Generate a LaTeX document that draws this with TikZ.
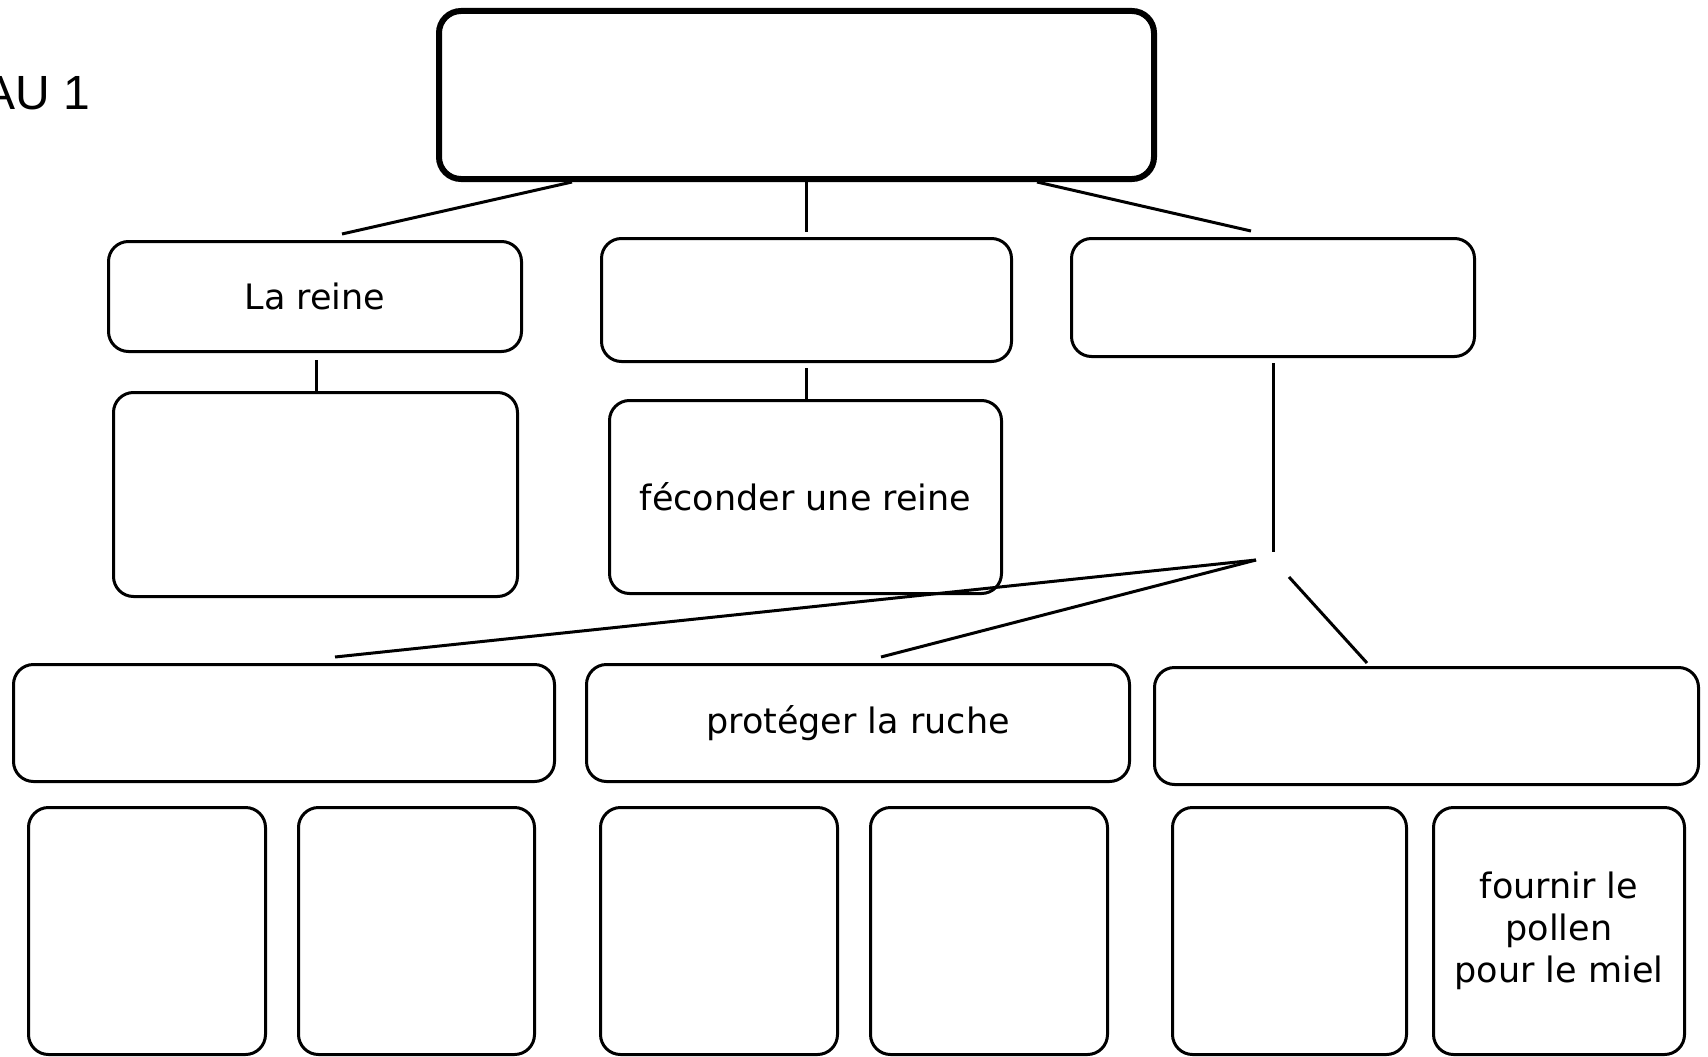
\documentclass[tikz,border=0pt]{standalone}
\usepackage{fontspec}
\setmainfont{DejaVu Sans}
\newfontfamily\arialf{Liberation Sans}
\tikzset{
  box/.style={draw=black, line width=3pt, rounded corners=20pt, inner sep=0pt, outer sep=0pt,
              align=center, font=\fontsize{35}{42}\selectfont},
  topbox/.style={box, line width=6pt, rounded corners=22pt},
  link/.style={draw=black, line width=3pt}
}
% #1 name, #2 extra style, #3 x1, #4 y1, #5 x2, #6 y2, #7 text
\newcommand{\bx}[7]{\node[box,#2,minimum width={#5-#3-3},minimum height={#6-#4-3}] (#1) at ({(#3+#5)/2},{(#4+#6)/2}) {#7};}
\begin{document}
\begin{tikzpicture}[x=1pt,y=-1pt]
\useasboundingbox (0,0) rectangle (1708,1057);
\clip (0,0) rectangle (1708,1057);
\fill[white] (0,0) rectangle (1708,1057);

% title fragment
\node[anchor=base west, inner sep=0pt, font=\arialf\fontsize{48}{58}\selectfont] (title) at (-17,110) {AU 1};

% top box
\node[topbox, minimum width=715pt, minimum height=168pt] (top) at ({(436+1157)/2},{(8+182)/2}) {};

% row 2
\bx{reine}{}{107}{240}{523}{353}{La reine}
\bx{mid}{}{600}{237}{1013}{363}{}
\bx{right}{}{1070}{237}{1476}{358}{}

% row 3
\bx{reineB}{}{112}{391}{519}{598}{}
\bx{fecond}{}{608}{399}{1003}{595}{féconder une reine}

% row 4
\bx{rowL}{}{12}{663}{556}{783}{}
\bx{proteg}{}{585}{663}{1131}{783}{protéger la ruche}
\bx{rowR}{}{1153}{666}{1700}{786}{}

% row 5
\bx{c1}{}{27}{806}{267}{1056}{}
\bx{c2}{}{297}{806}{536}{1056}{}
\bx{c3}{}{599}{806}{839}{1056}{}
\bx{c4}{}{869}{806}{1109}{1056}{}
\bx{c5}{}{1171}{806}{1408}{1056}{}
\bx{c6}{}{1432}{806}{1686}{1056}{fournir le\\pollen\\pour le miel}

% connector end points
\coordinate (tA) at (572,182);
\coordinate (tB) at (806,182);
\coordinate (tC) at (1037,182);
\coordinate (eA) at (342,234);
\coordinate (eB) at (806,232);
\coordinate (eC) at (1251,231);
\coordinate (rA1) at (316,360);
\coordinate (rA2) at (316,391);
\coordinate (rB1) at (806,368);
\coordinate (rB2) at (806,399);
\coordinate (rC1) at (1273,363);
\coordinate (rC2) at (1273,552);
\coordinate (junc) at (1256,560);
\coordinate (jL) at (335,657);
\coordinate (jM) at (881,657);
\coordinate (jR1) at (1289,577);
\coordinate (jR2) at (1367,663);

\draw[link] (tA) -- (eA);
\draw[link] (tB) -- (eB);
\draw[link] (tC) -- (eC);
\draw[link] (rA1) -- (rA2);
\draw[link] (rB1) -- (rB2);
\draw[link] (rC1) -- (rC2);
\draw[link] (junc) -- (jL);
\draw[link] (junc) -- (jM);
\draw[link] (jR1) -- (jR2);
\end{tikzpicture}
\end{document}
